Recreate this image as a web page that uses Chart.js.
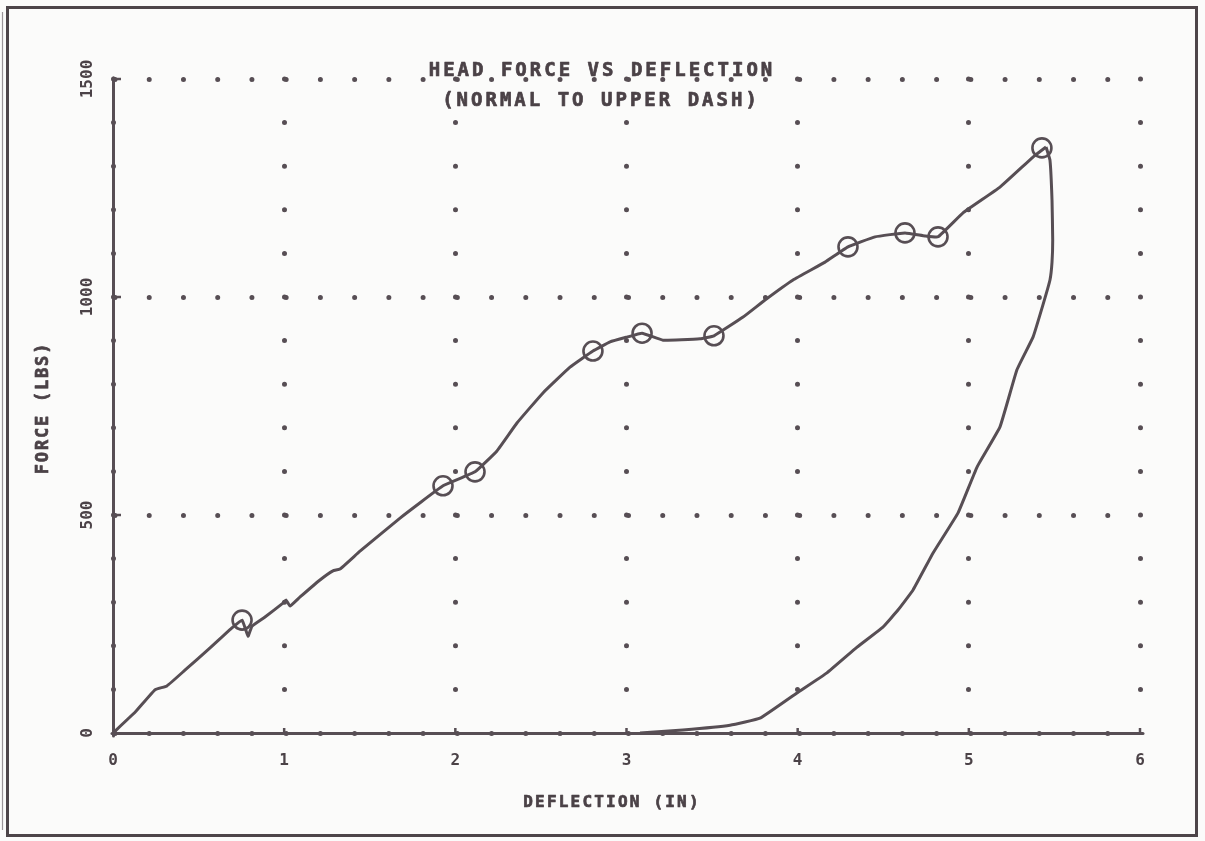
<!DOCTYPE html>
<html>
<head>
<meta charset="utf-8">
<title>Head force vs deflection</title>
<script src="https://cdn.jsdelivr.net/npm/chart.js@4.4.1/dist/chart.umd.min.js"></script>
<style>
  html, body { margin: 0; padding: 0; background: #fbfbfa; }
  canvas { display: block; }
</style>
</head>
<body>
<canvas id="chart" width="1205" height="841"></canvas>
<script>
// Loading branch: deflection (in) and head force (lbs)
const loadDeflection = [0, 0.13, 0.245, 0.315, 0.42, 0.567, 0.695, 0.754, 0.789, 0.812, 0.888, 0.993, 1.011, 1.034, 1.093, 1.209, 1.285, 1.326, 1.443, 1.677, 1.928, 2.115, 2.243, 2.36, 2.512, 2.67, 2.804, 2.904, 3.003, 3.091, 3.213, 3.429, 3.511, 3.681, 3.809, 3.973, 4.16, 4.294, 4.452, 4.627, 4.744, 4.82, 4.966, 5.182, 5.375, 5.451];
const loadForce      = [0, 48, 99, 108, 144, 195, 241, 259, 222, 245, 266, 298, 305, 291, 312, 351, 372, 376, 417, 493, 567, 599, 647, 711, 780, 839, 876, 897, 908, 917, 901, 904, 911, 954, 993, 1039, 1080, 1115, 1138, 1147, 1140, 1138, 1193, 1252, 1321, 1344];

// Unloading branch
const unloadDeflection = [5.451, 5.474, 5.486, 5.49, 5.486, 5.474, 5.433, 5.375, 5.281, 5.182, 5.048, 4.937, 4.791, 4.674, 4.586, 4.498, 4.347, 4.171, 3.996, 3.78, 3.605, 3.33, 3.079];
const unloadForce      = [1344, 1314, 1222, 1131, 1080, 1039, 982, 908, 833, 702, 610, 505, 413, 328, 282, 243, 197, 138, 92, 34, 18, 7, 0];

// Circled points on the loading branch
const markerDeflection = [0.754, 1.928, 2.115, 2.804, 3.091, 3.511, 4.294, 4.627, 4.82, 5.427];
const markerForce      = [259, 567, 599, 876, 917, 911, 1115, 1147, 1138, 1342];

// Axis ticks
const xTickValues = [0, 1, 2, 3, 4, 5, 6];
const yTickValues = [0, 500, 1000, 1500];

// Text
const titleLines = ['HEAD FORCE VS DEFLECTION', '(NORMAL TO UPPER DASH)'];
const xAxisTitle = 'DEFLECTION (IN)';
const yAxisTitle = 'FORCE (LBS)';

const INK = '#574e54';
const TEXT_INK = '#4b4247';
const MONO = '"DejaVu Sans Mono", "Liberation Mono", monospace';

// Plot box in canvas pixels
const AREA = { left: 113, top: 79, right: 1140, bottom: 733 };
const dotStepX = (AREA.right - AREA.left) / 30;   // a dot every 0.2 in
const dotStepY = (AREA.bottom - AREA.top) / 15;   // a dot every 100 lbs

const toPoints = (xs, ys) => xs.map((x, i) => ({ x: x, y: ys[i] }));

// Filled text with a thin outline so strokes read as pen lines
function penText(ctx, text, x, y) {
  ctx.fillText(text, x, y);
  ctx.strokeText(text, x, y);
}

const decor = {
  id: 'decor',
  beforeDraw(chart) {
    const ctx = chart.ctx;
    ctx.save();
    ctx.fillStyle = '#fbfbfa';
    ctx.fillRect(0, 0, chart.width, chart.height);
    ctx.restore();
    // round caps turn the zero-length grid dashes into dots
    ctx.lineCap = 'round';
  },
  afterDraw(chart) {
    const ctx = chart.ctx;
    const xs = chart.scales.x, ys = chart.scales.y;
    ctx.save();
    ctx.strokeStyle = INK;
    ctx.lineCap = 'butt';

    // short inward tick marks
    ctx.lineWidth = 2.5;
    xTickValues.forEach(v => {
      if (v === 0) return;
      const px = xs.getPixelForValue(v);
      ctx.beginPath(); ctx.moveTo(px, ys.bottom); ctx.lineTo(px, ys.bottom - 5); ctx.stroke();
    });
    yTickValues.forEach(v => {
      if (v === 0) return;
      const py = ys.getPixelForValue(v);
      ctx.beginPath(); ctx.moveTo(xs.left - 1, py); ctx.lineTo(xs.left + 8, py); ctx.stroke();
    });

    // outer frame
    ctx.lineWidth = 3;
    ctx.strokeStyle = '#4d4549';
    ctx.strokeRect(7.5, 7.5, 1189, 828);
    ctx.lineWidth = 1.2;
    ctx.strokeStyle = '#9a9498';
    ctx.beginPath(); ctx.moveTo(2.5, 12); ctx.lineTo(2.5, 830); ctx.stroke();

    // titles
    ctx.fillStyle = TEXT_INK;
    ctx.strokeStyle = TEXT_INK;
    ctx.lineWidth = 0.7;
    ctx.lineJoin = 'round';
    ctx.textBaseline = 'middle';
    ctx.textAlign = 'center';
    ctx.font = 'bold 19px ' + MONO;
    ctx.letterSpacing = '3px';
    penText(ctx, titleLines[0], 602, 71);
    penText(ctx, titleLines[1], 601, 101);

    ctx.font = 'bold 16px ' + MONO;
    ctx.letterSpacing = '2.2px';
    penText(ctx, xAxisTitle, 612, 803);

    ctx.translate(44, 408);
    ctx.rotate(-Math.PI / 2);
    ctx.font = 'bold 17px ' + MONO;
    ctx.letterSpacing = '1.8px';
    penText(ctx, yAxisTitle, 0, 0);
    ctx.restore();
  }
};

const lineStyle = {
  borderColor: INK,
  borderWidth: 3,
  pointRadius: 0,
  tension: 0.1,
  fill: false
};

new Chart(document.getElementById('chart'), {
  type: 'line',
  data: {
    datasets: [
      Object.assign({ label: 'Loading', data: toPoints(loadDeflection, loadForce) }, lineStyle),
      Object.assign({ label: 'Unloading', data: toPoints(unloadDeflection, unloadForce) }, lineStyle),
      {
        label: 'Marked points',
        data: toPoints(markerDeflection, markerForce),
        showLine: false,
        pointStyle: 'circle',
        pointRadius: 9.5,
        pointBorderWidth: 2.6,
        pointBorderColor: INK,
        pointBackgroundColor: 'rgba(0,0,0,0)'
      }
    ]
  },
  options: {
    responsive: false,
    animation: false,
    devicePixelRatio: 1,
    layout: { padding: { left: 0, top: AREA.top, right: 1205 - AREA.right, bottom: 0 } },
    plugins: {
      legend: { display: false },
      tooltip: { enabled: false },
      title: { display: false }
    },
    scales: {
      x: {
        type: 'linear',
        min: 0, max: 6,
        afterBuildTicks: s => { s.ticks = xTickValues.map(v => ({ value: v })); },
        afterFit: s => { s.height = 841 - AREA.bottom; },
        grid: {
          color: INK,
          lineWidth: 5,
          drawTicks: false
        },
        border: { display: true, color: INK, width: 3, dash: [0, dotStepY] },
        ticks: {
          color: TEXT_INK,
          font: { family: MONO, size: 16, weight: 'bold' },
          padding: 18,
          maxRotation: 0,
          callback: v => String(v)
        }
      },
      y: {
        type: 'linear',
        min: 0, max: 1500,
        afterBuildTicks: s => { s.ticks = yTickValues.map(v => ({ value: v })); },
        afterFit: s => { s.width = AREA.left; },
        grid: {
          color: INK,
          lineWidth: 5,
          drawTicks: false
        },
        border: { display: true, color: INK, width: 3, dash: [0, dotStepX] },
        ticks: {
          color: TEXT_INK,
          font: { family: MONO, size: 16, weight: 'bold' },
          padding: 6,
          minRotation: 90,
          maxRotation: 90,
          crossAlign: 'center',
          callback: v => String(v)
        }
      }
    }
  },
  plugins: [decor]
});
</script>
</body>
</html>
